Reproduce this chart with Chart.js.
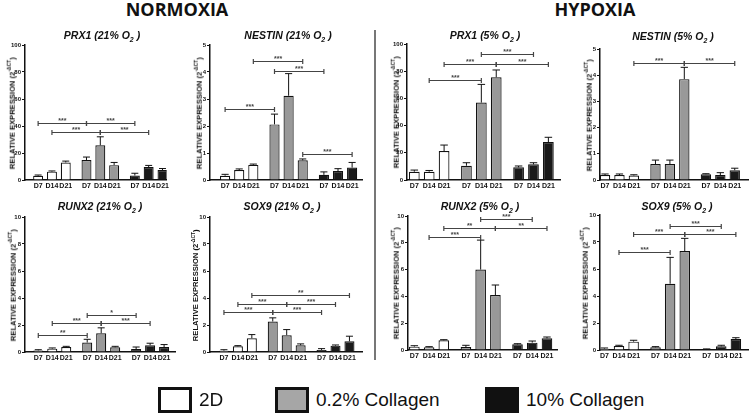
<!DOCTYPE html>
<html>
<head>
<meta charset="utf-8">
<script src="https://cdn.jsdelivr.net/npm/chart.js@4/dist/chart.umd.min.js"></script>
<style>
  body { margin: 0; background: #fff; overflow: hidden; }
  #page { position: relative; width: 750px; height: 415px; font-family: "Liberation Sans", Arial, sans-serif; color: #111; }
  .panel { position: absolute; }
  .ptitle { position: absolute; transform: translate(-50%, -50%); font-weight: bold; font-style: italic; font-size: 10.5px; white-space: nowrap; }
  .ptitle sub { font-size: 7px; }
  .ytitle { position: absolute; width: 160px; text-align: center; font-weight: bold; font-size: 7.6px; white-space: nowrap; transform: rotate(-90deg); }
  .ytitle sup { font-size: 5px; }
  .header { position: absolute; transform: translate(-50%, -50%); font-family: "Open Sans", sans-serif; font-weight: bold; font-size: 18px; }
  #sep { position: absolute; left: 374px; top: 30px; width: 1.5px; height: 330px; background: #777; }
  .lgbox { position: absolute; width: 28px; height: 20px; border: 3px solid #111; }
  .lgtext { position: absolute; font-size: 19px; transform: translateY(-50%); white-space: nowrap; }
</style>
</head>
<body>
<div id="page">
  <div class="header" style="left:177px; top:9px;">NORMOXIA</div>
  <div class="header" style="left:595px; top:9px;">HYPOXIA</div>
  <div id="sep"></div>
</div>
<script>
const dayLabels = ['D7', 'D14', 'D21'];
const groupNames = ['2D', '0.2% Collagen', '10% Collagen'];
const groupFill = ['#ffffff', '#999999', '#1a1a1a'];

// 9 bars: D7/D14/D21 for 2D, 0.2% collagen, 10% collagen (half a slot between groups)
const slots = [0, 1, 2, 3, 4, 5, 6, 7, 8].map(i => i + Math.floor(i / 3) * 0.5);

// significance brackets: [from bar, to bar, height, label]
const prx1NormMean = [3.2, 6.2, 13.0, 14.8, 25.7, 11.0, 3.3, 9.6, 7.4];
const prx1NormSd = [0.5, 0.5, 1.0, 2.2, 6.3, 2.0, 1.7, 1.2, 1.1];
const prx1NormSig = [[0, 3, 42.5, '***'], [3, 6, 42.5, '***'], [1, 4, 35.8, '***'], [4, 7, 35.8, '***']];

const nestinNormMean = [0.16, 0.37, 0.56, 2.06, 3.12, 0.73, 0.19, 0.33, 0.46];
const nestinNormSd = [0.05, 0.04, 0.03, 0.38, 0.82, 0.05, 0.11, 0.09, 0.19];
const nestinNormSig = [[2, 5, 4.42, '***'], [3, 6, 4.02, '***'], [0, 3, 2.62, '***'], [5, 8, 0.96, '***']];

const prx1HypMean = [6.1, 6.1, 21.3, 10.5, 56.9, 75.5, 9.3, 11.5, 27.9];
const prx1HypSd = [1.2, 0.9, 4.4, 2.2, 13.4, 5.4, 1.0, 1.2, 3.5];
const prx1HypSig = [[4, 7, 92.4, '***'], [2, 5, 85, '***'], [5, 8, 85, '***'], [1, 4, 73.5, '***']];

const nestinHypMean = [0.19, 0.19, 0.17, 0.61, 0.61, 3.85, 0.22, 0.19, 0.37];
const nestinHypSd = [0.04, 0.04, 0.03, 0.15, 0.15, 0.45, 0.02, 0.09, 0.08];
const nestinHypSig = [[2, 5, 4.48, '***'], [5, 8, 4.48, '***']];

const runx2NormMean = [0.12, 0.25, 0.37, 0.70, 1.39, 0.35, 0.22, 0.50, 0.37];
const runx2NormSd = [0.05, 0.05, 0.05, 0.24, 0.40, 0.07, 0.15, 0.15, 0.18];
const runx2NormSig = [[3, 6, 2.75, '*'], [1, 4, 2.18, '***'], [4, 7, 2.18, '***'], [0, 3, 1.24, '**']];

const sox9NormMean = [0.10, 0.42, 1.02, 2.26, 1.24, 0.50, 0.15, 0.47, 0.79];
const sox9NormSd = [0.07, 0.05, 0.27, 0.27, 0.42, 0.10, 0.10, 0.05, 0.38];
const sox9NormSig = [[2, 8, 4.19, '**'], [1, 4, 3.57, '***'], [4, 7, 3.57, '***'], [0, 3, 2.95, '***'], [3, 6, 2.95, '***']];

const runx2HypMean = [0.25, 0.20, 0.72, 0.22, 6.0, 4.1, 0.42, 0.55, 0.87];
const runx2HypSd = [0.07, 0.05, 0.05, 0.13, 2.2, 0.75, 0.05, 0.12, 0.10];
const runx2HypSig = [[4, 7, 9.78, '***'], [2, 5, 9.13, '**'], [5, 8, 9.13, '**'], [1, 4, 8.43, '***']];

const sox9HypMean = [0.10, 0.30, 0.62, 0.20, 4.91, 7.33, 0.05, 0.27, 0.81];
const sox9HypSd = [0.05, 0.05, 0.10, 0.05, 1.95, 0.94, 0.03, 0.08, 0.10];
const sox9HypSig = [[4, 7, 9.2, '***'], [2, 5, 8.57, '***'], [5, 8, 8.57, '***'], [1, 4, 7.23, '***']];

const panels = [
  { gene: 'PRX1', o2: '21%', mean: prx1NormMean, sd: prx1NormSd, sig: prx1NormSig, yMax: 100, yStep: 20,
    axisX: 25, rightX: 168, topY: 45, zeroY: 180, xMin: -0.95, xMax: 9.3, titleX: 102, titleY: 36, yTitleX: 11 },
  { gene: 'NESTIN', o2: '21%', mean: nestinNormMean, sd: nestinNormSd, sig: nestinNormSig, yMax: 5, yStep: 1,
    axisX: 210, rightX: 362, topY: 45, zeroY: 180, xMin: -1.07, xMax: 9.7, titleX: 288, titleY: 36, yTitleX: 198 },
  { gene: 'PRX1', o2: '5%', mean: prx1HypMean, sd: prx1HypSd, sig: prx1HypSig, yMax: 100, yStep: 20,
    axisX: 407, rightX: 560, topY: 44, zeroY: 180, xMin: -0.49, xMax: 9.78, titleX: 485, titleY: 36, yTitleX: 395 },
  { gene: 'NESTIN', o2: '5%', mean: nestinHypMean, sd: nestinHypSd, sig: nestinHypSig, yMax: 5, yStep: 1,
    axisX: 600, rightX: 748, topY: 49, zeroY: 180, xMin: -0.35, xMax: 9.92, titleX: 673, titleY: 37, yTitleX: 588 },
  { gene: 'RUNX2', o2: '21%', mean: runx2NormMean, sd: runx2NormSd, sig: runx2NormSig, yMax: 10, yStep: 2,
    axisX: 25, rightX: 175, topY: 217, zeroY: 352, xMin: -0.95, xMax: 9.78, titleX: 100, titleY: 207, yTitleX: 12 },
  { gene: 'SOX9', o2: '21%', mean: sox9NormMean, sd: sox9NormSd, sig: sox9NormSig, yMax: 10, yStep: 2,
    axisX: 210, rightX: 362, topY: 217, zeroY: 352, xMin: -1.0, xMax: 9.9, titleX: 282, titleY: 207, yTitleX: 195 },
  { gene: 'RUNX2', o2: '5%', mean: runx2HypMean, sd: runx2HypSd, sig: runx2HypSig, yMax: 10, yStep: 2,
    axisX: 408, rightX: 557, topY: 216, zeroY: 350, xMin: -0.43, xMax: 9.68, titleX: 480, titleY: 207, yTitleX: 395 },
  { gene: 'SOX9', o2: '5%', mean: sox9HypMean, sd: sox9HypSd, sig: sox9HypSig, yMax: 10, yStep: 2,
    axisX: 600, rightX: 748, topY: 215, zeroY: 350, xMin: -0.3, xMax: 9.83, titleX: 677, titleY: 207, yTitleX: 584 }
];

// error whiskers (upper only) and significance brackets
const extrasPlugin = {
  id: 'extras',
  afterDatasetsDraw(chart, args, opts) {
    const ctx = chart.ctx;
    const yScale = chart.scales.y;
    const xScale = chart.scales.x;
    ctx.save();
    ctx.strokeStyle = '#111';
    ctx.lineWidth = 1;
    chart.data.datasets.forEach((ds, d) => {
      const meta = chart.getDatasetMeta(d);
      meta.data.forEach((bar, j) => {
        const k = d * 3 + j;
        const top = yScale.getPixelForValue(opts.mean[k] + opts.sd[k]);
        const half = bar.width * 0.35;
        ctx.beginPath();
        ctx.moveTo(bar.x, bar.y);
        ctx.lineTo(bar.x, top);
        ctx.moveTo(bar.x - half, top);
        ctx.lineTo(bar.x + half, top);
        ctx.stroke();
      });
    });
    ctx.strokeStyle = '#444';
    ctx.fillStyle = '#444';
    ctx.lineWidth = 1.2;
    ctx.font = 'bold 7px "Liberation Sans", Arial, sans-serif';
    ctx.textAlign = 'center';
    ctx.textBaseline = 'bottom';
    opts.sig.forEach(s => {
      const x1 = xScale.getPixelForValue(slots[s[0]]);
      const x2 = xScale.getPixelForValue(slots[s[1]]);
      const y = Math.round(yScale.getPixelForValue(s[2])) + 0.5;
      ctx.beginPath();
      ctx.moveTo(x1, y);
      ctx.lineTo(x2, y);
      ctx.moveTo(x1, y - 2.5);
      ctx.lineTo(x1, y + 2.5);
      ctx.moveTo(x2, y - 2.5);
      ctx.lineTo(x2, y + 2.5);
      ctx.stroke();
      ctx.fillText(s[3], (x1 + x2) / 2, y + 1);
    });
    ctx.restore();
  }
};

function makePanel(p) {
  const page = document.getElementById('page');
  const yW = 18, xH = 14, padTop = 5, padRight = 3;
  const left = p.axisX - yW;
  const top = p.topY - padTop;

  const box = document.createElement('div');
  box.className = 'panel';
  box.style.left = left + 'px';
  box.style.top = top + 'px';
  box.style.width = (p.rightX - left + padRight) + 'px';
  box.style.height = (p.zeroY - top + xH) + 'px';
  const cv = document.createElement('canvas');
  box.appendChild(cv);
  page.appendChild(box);

  const title = document.createElement('div');
  title.className = 'ptitle';
  title.style.left = p.titleX + 'px';
  title.style.top = p.titleY + 'px';
  title.innerHTML = p.gene + ' (' + p.o2 + ' O<sub>2</sub> )';
  page.appendChild(title);

  const ytitle = document.createElement('div');
  ytitle.className = 'ytitle';
  ytitle.style.left = (p.yTitleX - 80) + 'px';
  ytitle.style.top = ((p.topY + p.zeroY) / 2 - 5) + 'px';
  ytitle.innerHTML = 'RELATIVE EXPRESSION (2<sup>-ΔCT</sup>)';
  page.appendChild(ytitle);

  const datasets = groupNames.map((name, g) => ({
    label: name,
    data: [0, 1, 2].map(j => ({ x: slots[g * 3 + j], y: p.mean[g * 3 + j] })),
    backgroundColor: groupFill[g],
    borderColor: '#111',
    borderWidth: 1.2,
    grouped: false,
    barPercentage: 0.72,
    categoryPercentage: 1
  }));

  const tickFont = { family: '"Liberation Sans", Arial, sans-serif', weight: 'bold' };

  new Chart(cv, {
    type: 'bar',
    data: { datasets: datasets },
    options: {
      responsive: true,
      maintainAspectRatio: false,
      animation: false,
      layout: { padding: { top: padTop, right: padRight, left: 0, bottom: 0 } },
      plugins: {
        legend: { display: false },
        tooltip: { enabled: false },
        extras: { mean: p.mean, sd: p.sd, sig: p.sig }
      },
      scales: {
        x: {
          type: 'linear',
          min: p.xMin,
          max: p.xMax,
          offset: false,
          afterBuildTicks: scale => { scale.ticks = slots.map(v => ({ value: v })); },
          afterFit: scale => { scale.height = xH; },
          grid: { display: true, drawOnChartArea: false, drawTicks: false },
          border: { display: true, color: '#111', width: 1.5 },
          ticks: {
            autoSkip: false, maxRotation: 0, padding: 2, color: '#111',
            font: Object.assign({ size: 7 }, tickFont),
            callback: (value, index) => dayLabels[index % 3]
          }
        },
        y: {
          min: 0,
          max: p.yMax,
          afterFit: scale => { scale.width = yW; },
          grid: { display: true, drawOnChartArea: false, drawTicks: true, tickLength: 3, color: '#111', lineWidth: 1 },
          border: { display: true, color: '#111', width: 1.5 },
          ticks: { stepSize: p.yStep, padding: 1, color: '#111', font: Object.assign({ size: 6 }, tickFont) }
        }
      }
    },
    plugins: [extrasPlugin]
  });
}

panels.forEach(makePanel);

// shared legend
const legendX = [158, 275, 485];
const page = document.getElementById('page');
groupNames.forEach((name, g) => {
  const b = document.createElement('div');
  b.className = 'lgbox';
  b.style.left = legendX[g] + 'px';
  b.style.top = '387px';
  b.style.background = g === 1 ? '#a6a6a6' : (g === 2 ? '#111' : '#fff');
  page.appendChild(b);
  const t = document.createElement('div');
  t.className = 'lgtext';
  t.style.left = (legendX[g] + 41) + 'px';
  t.style.top = '400px';
  t.textContent = name;
  page.appendChild(t);
});
</script>
</body>
</html>
